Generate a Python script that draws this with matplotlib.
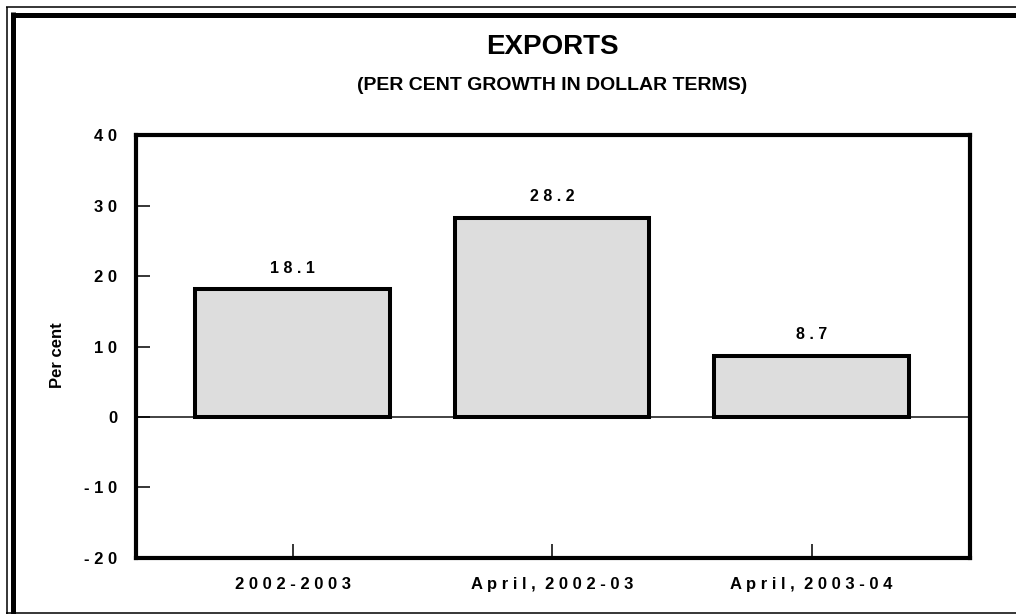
import matplotlib.pyplot as plt
from matplotlib.lines import Line2D

categories = ['2002-2003', 'April, 2002-03', 'April, 2003-04']
growth = [18.1, 28.2, 8.7]
yticks = [-20, -10, 0, 10, 20, 30, 40]

plt.rcParams['font.family'] = ['Liberation Sans', 'DejaVu Sans']
plt.rcParams['font.weight'] = 'bold'


def spaced(s):
    # the original uses wide letter spacing on labels
    return ' '.join(s).replace('   ', '  ')


W, H = 1016, 614
fig = plt.figure(figsize=(W / 100, H / 100), dpi=100)


def px(x, y):
    return x / W, 1 - y / H


# double frame around the whole picture (cut off on the right)
def frame_line(p0, p1, lw):
    (x0, y0), (x1, y1) = px(*p0), px(*p1)
    fig.add_artist(Line2D([x0, x1], [y0, y1], transform=fig.transFigure,
                          color='black', lw=lw, solid_capstyle='butt'))


frame_line((6.5, 6.5), (6.5, 614), 1.1)
frame_line((6, 7), (1016, 7), 1.1)
frame_line((6, 612.7), (1016, 612.7), 1.1)
frame_line((13, 12), (13, 614), 3.6)
frame_line((10.5, 14.5), (1016, 14.5), 3.6)

ax = fig.add_axes([135.5 / W, 1 - 557.7 / H, 834.5 / W, 422.4 / H])
x = range(len(categories))
bars = ax.bar(x, growth, width=0.75, color='#dddddd', edgecolor='black',
              linewidth=2.9, zorder=3)
ax.axhline(0, color='#222222', lw=1.2, zorder=1)

for b, v in zip(bars, growth):
    ax.annotate(spaced(f'{v:.1f}'), (b.get_x() + b.get_width() / 2, v),
                xytext=(0, 10), textcoords='offset points',
                ha='center', va='bottom', fontsize=11.5, fontweight='bold')

ax.set_xlim(-0.605, 2.61)
ax.set_ylim(-20, 40)
ax.set_xticks(list(x))
ax.set_xticklabels([spaced(c) for c in categories], fontsize=12, fontweight='bold')
ax.set_yticks(yticks)
ax.set_yticklabels([spaced(str(t)) for t in yticks], fontsize=12, fontweight='bold')
ax.tick_params(axis='both', direction='in', length=10, width=1.1)
ax.tick_params(axis='y', pad=13)
ax.tick_params(axis='x', pad=14)
for s in ax.spines.values():
    s.set_linewidth(3)

ax.set_ylabel('Per cent', fontsize=12, fontweight='bold')
ax.yaxis.set_label_coords(-0.084, 0.48)

fig.text(*px(552, 47), 'EXPORTS', ha='center', va='center',
         fontsize=20, fontweight='bold')
fig.text(*px(552, 86), '(PER CENT GROWTH IN DOLLAR TERMS)',
         ha='center', va='center', fontsize=14, fontweight='bold')

fig.savefig('out.png', dpi=100)
